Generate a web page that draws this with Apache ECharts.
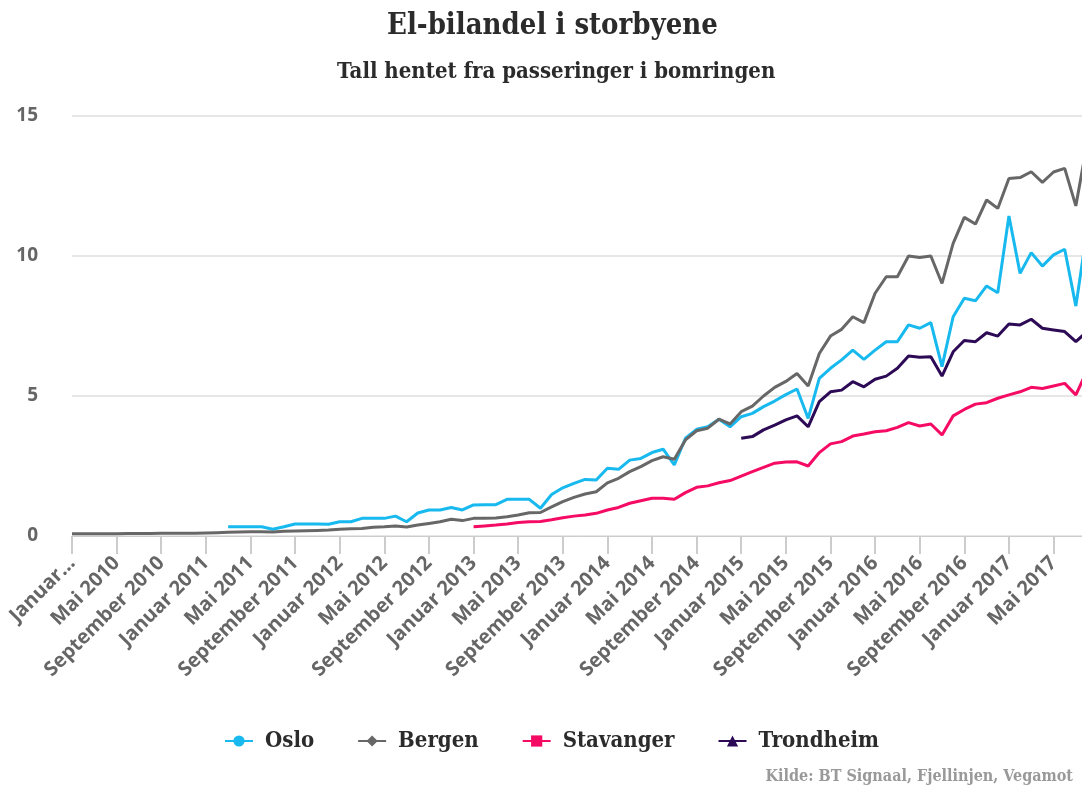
<!DOCTYPE html>
<html>
<head>
<meta charset="utf-8">
<script src="https://cdn.jsdelivr.net/npm/echarts@6/dist/echarts.min.js"></script>
<style>
  html, body { margin: 0; padding: 0; background: #fff; }
  #chart { width: 1082px; height: 787px; }
</style>
</head>
<body>
<div id="chart"></div>
<script>
// months from Januar 2010 to August 2017
var monthNames = ['Januar', 'Februar', 'Mars', 'April', 'Mai', 'Juni', 'Juli', 'August', 'September', 'Oktober', 'November', 'Desember']
var years = [2010, 2011, 2012, 2013, 2014, 2015, 2016, 2017]
var lastMonthCount = 8

var yTicks = [0, 5, 10, 15]

// Bergen from Januar 2010
var bergen = [
  0.08, 0.08, 0.08, 0.08, 0.08, 0.09, 0.09, 0.09, 0.1, 0.1, 0.1, 0.1,
  0.11, 0.12, 0.13, 0.14, 0.15, 0.15, 0.14, 0.17, 0.18, 0.19, 0.2, 0.21,
  0.24, 0.26, 0.27, 0.31, 0.33, 0.36, 0.32, 0.39, 0.45, 0.51, 0.6, 0.55,
  0.63, 0.63, 0.64, 0.69, 0.75, 0.83, 0.84, 1.04, 1.23, 1.38, 1.5, 1.58,
  1.9, 2.06, 2.3, 2.48, 2.69, 2.83, 2.74, 3.43, 3.76, 3.85, 4.17, 4.0,
  4.44, 4.64, 5.0, 5.31, 5.52, 5.8, 5.36, 6.52, 7.14, 7.38, 7.83, 7.62,
  8.67, 9.26, 9.26, 10.0, 9.95, 10.0, 9.02, 10.45, 11.38, 11.14, 12.0, 11.7,
  12.77, 12.8, 13.01, 12.63, 13.0, 13.13, 11.79, 14.0
]
// Oslo from Mars 2011
var osloStart = 14
var oslo = [
  0.33, 0.33, 0.33, 0.33, 0.24, 0.33, 0.43, 0.43, 0.43, 0.42,
  0.51, 0.51, 0.63, 0.63, 0.63, 0.71, 0.51, 0.82, 0.93, 0.93, 1.02, 0.93,
  1.11, 1.12, 1.12, 1.31, 1.31, 1.31, 0.99, 1.48, 1.72, 1.88, 2.02, 2.0,
  2.42, 2.38, 2.71, 2.77, 2.98, 3.1, 2.54, 3.49, 3.81, 3.9, 4.17, 3.9,
  4.26, 4.38, 4.62, 4.82, 5.05, 5.25, 4.2, 5.63, 5.99, 6.29, 6.64, 6.31,
  6.64, 6.94, 6.94, 7.54, 7.42, 7.62, 6.05, 7.83, 8.49, 8.4, 8.93, 8.69,
  11.43, 9.38, 10.12, 9.64, 10.04, 10.24, 8.21, 10.9
]
// Stavanger from Januar 2013
var stavangerStart = 36
var stavanger = [
  0.33, 0.36, 0.39, 0.43, 0.48, 0.51, 0.52, 0.58, 0.65, 0.71, 0.75, 0.81,
  0.93, 1.02, 1.17, 1.26, 1.35, 1.35, 1.31, 1.55, 1.74, 1.79, 1.9, 1.98,
  2.14, 2.3, 2.45, 2.6, 2.64, 2.65, 2.5, 2.98, 3.29, 3.37, 3.57, 3.64,
  3.72, 3.76, 3.88, 4.05, 3.93, 4.0, 3.61, 4.29, 4.52, 4.71, 4.76, 4.92,
  5.04, 5.15, 5.31, 5.27, 5.36, 5.45, 5.04, 5.9
]
// Trondheim from Januar 2015
var trondheimStart = 60
var trondheim = [
  3.49, 3.55, 3.79, 3.96, 4.15, 4.29, 3.9, 4.8, 5.15, 5.21, 5.51, 5.33,
  5.6, 5.71, 5.99, 6.43, 6.38, 6.4, 5.71, 6.58, 6.98, 6.94, 7.26, 7.14,
  7.57, 7.54, 7.74, 7.42, 7.36, 7.3, 6.94, 7.3
]

var months = []
years.forEach(function (y, yi) {
  var n = yi === years.length - 1 ? lastMonthCount : 12
  for (var m = 0; m < n; m++) {
    months.push(monthNames[m] + ' ' + y)
  }
})

function pad (start, values) {
  return new Array(start).fill(null).concat(values)
}

var slab = '"DejaVu Serif Condensed", "DejaVu Serif", serif'
var sans = '"Open Sans", "Noto Sans", sans-serif'

var chart = echarts.init(document.getElementById('chart'))

var option = {
  animation: false,
  backgroundColor: '#ffffff',
  title: [
    {
      text: 'El-bilandel i storbyene',
      left: 387,
      top: 12,
      padding: 0,
      textStyle: { fontFamily: slab, fontWeight: 'bold', fontSize: 29, color: '#2b2b2b' }
    },
    {
      text: 'Tall hentet fra passeringer i bomringen',
      left: 337,
      top: 61,
      padding: 0,
      textStyle: { fontFamily: slab, fontWeight: 'bold', fontSize: 22, color: '#2b2b2b' }
    }
  ],
  legend: {
    bottom: 35,
    left: 224,
    padding: 0,
    itemWidth: 28,
    itemHeight: 14,
    itemGap: 43,
    textStyle: {
      fontFamily: slab,
      fontWeight: 'bold',
      fontSize: 22,
      color: '#2b2b2b',
      padding: [0, 0, 0, 7]
    },
    data: ['Oslo', 'Bergen', 'Stavanger', 'Trondheim']
  },
  graphic: [
    {
      type: 'text',
      right: 9,
      bottom: 2,
      style: {
        text: 'Kilde: BT Signaal, Fjellinjen, Vegamot',
        fontFamily: slab,
        fontWeight: 'bold',
        fontSize: 16,
        fill: '#999999'
      }
    }
  ],
  grid: {
    left: 72,
    width: 1015,
    top: 116,
    bottom: 251,
    outerBoundsMode: 'none'
  },
  xAxis: {
    type: 'category',
    data: months,
    boundaryGap: false,
    axisLine: { lineStyle: { color: '#cccccc', width: 1 } },
    axisTick: { interval: 3, length: 18, lineStyle: { color: '#cccccc', width: 2 } },
    axisLabel: {
      interval: 3,
      rotate: 45,
      margin: 24,
      fontFamily: sans,
      fontWeight: 'bold',
      fontSize: 20,
      color: '#666666',
      formatter: function (value, index) {
        return index === 0 ? 'Januar...' : value
      }
    }
  },
  yAxis: {
    type: 'value',
    min: yTicks[0],
    max: yTicks[yTicks.length - 1],
    interval: 5,
    axisLine: { show: false },
    axisTick: { show: false },
    axisLabel: {
      margin: 34,
      fontFamily: sans,
      fontWeight: 'bold',
      fontSize: 19,
      color: '#666666'
    },
    splitLine: { lineStyle: { color: '#e6e6e6', width: 2 } }
  },
  series: [
    {
      name: 'Oslo',
      type: 'line',
      data: pad(osloStart, oslo),
      symbol: 'circle',
      symbolSize: 14,
      showSymbol: false,
      color: '#17b9ee',
      lineStyle: { width: 3 }
    },
    {
      name: 'Bergen',
      type: 'line',
      data: bergen,
      symbol: 'diamond',
      symbolSize: 14,
      showSymbol: false,
      color: '#676767',
      lineStyle: { width: 3 }
    },
    {
      name: 'Stavanger',
      type: 'line',
      data: pad(stavangerStart, stavanger),
      symbol: 'rect',
      symbolSize: 14,
      showSymbol: false,
      color: '#f50a64',
      lineStyle: { width: 3 }
    },
    {
      name: 'Trondheim',
      type: 'line',
      data: pad(trondheimStart, trondheim),
      symbol: 'triangle',
      symbolSize: 14,
      showSymbol: false,
      color: '#2d0a55',
      lineStyle: { width: 3 }
    }
  ]
}

chart.setOption(option)
</script>
</body>
</html>
